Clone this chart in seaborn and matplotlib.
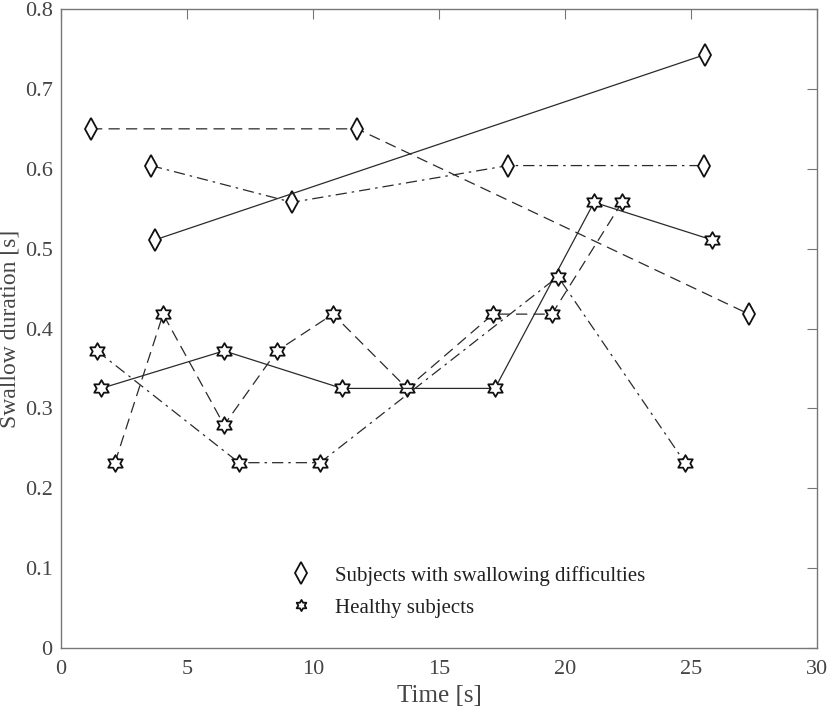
import numpy as np
import pandas as pd
import matplotlib
matplotlib.use("Agg")
import matplotlib.pyplot as plt
from matplotlib.path import Path
from matplotlib.lines import Line2D
import seaborn as sns

# ---- data ----
# Subjects with swallowing difficulties (diamonds)
dif_dashed_t = [1.19, 11.75, 27.3]
dif_dashed_d = [0.650, 0.650, 0.418]
dif_dashdot_t = [3.57, 9.17, 17.74, 25.52]
dif_dashdot_d = [0.604, 0.558, 0.604, 0.604]
dif_solid_t = [3.73, 25.56]
dif_solid_d = [0.511, 0.743]

# Healthy subjects (stars)
hea_dashed_t = [2.14, 4.05, 6.47, 8.57, 10.79, 13.73, 17.14, 19.48, 22.26]
hea_dashed_d = [0.232, 0.418, 0.279, 0.372, 0.418, 0.325, 0.418, 0.418, 0.558]
hea_solid_t = [1.59, 6.47, 11.15, 17.22, 21.15, 25.83]
hea_solid_d = [0.325, 0.372, 0.325, 0.325, 0.558, 0.511]
hea_dashdot_t = [1.43, 7.06, 10.28, 19.72, 24.76]
hea_dashdot_d = [0.372, 0.232, 0.232, 0.465, 0.232]

xticks = [0, 5, 10, 15, 20, 25, 30]
yticks = [0, 0.1, 0.2, 0.3, 0.4, 0.5, 0.6, 0.7, 0.8]
ytick_labels = ["0", "0.1", "0.2", "0.3", "0.4", "0.5", "0.6", "0.7", "0.8"]
legend_labels = ["Subjects with swallowing difficulties", "Healthy subjects"]

# ---- style ----
sns.set_style("white")
plt.rcParams["font.family"] = ["Liberation Serif", "DejaVu Serif"]

TXT = "#454545"
LINE = "#2a2a2a"
SPINE = "#777777"

# hexagram marker
ang_o = np.deg2rad(90 + 60 * np.arange(6))
ang_i = np.deg2rad(120 + 60 * np.arange(6))
r_i = 1 / np.sqrt(3)
verts = []
for ao, ai in zip(ang_o, ang_i):
    verts.append((np.cos(ao), np.sin(ao)))
    verts.append((r_i * np.cos(ai), r_i * np.sin(ai)))
verts.append(verts[0])
codes = [Path.MOVETO] + [Path.LINETO] * 11 + [Path.CLOSEPOLY]
hexagram = Path(verts, codes)

dashed = (0, (9, 5))
dashdot = (0, (9, 4, 2, 4))

fig = plt.figure(figsize=(8.29, 7.06), dpi=100)
ax = fig.add_axes([0.0736, 0.0822, 0.912, 0.905])

series = [
    (dif_dashed_t, dif_dashed_d, dashed, "d", 11),
    (dif_dashdot_t, dif_dashdot_d, dashdot, "d", 11),
    (dif_solid_t, dif_solid_d, "-", "d", 11),
    (hea_dashed_t, hea_dashed_d, dashed, hexagram, 12),
    (hea_solid_t, hea_solid_d, "-", hexagram, 12),
    (hea_dashdot_t, hea_dashdot_d, dashdot, hexagram, 12),
]
for t, d, ls, mk, ms in series:
    df = pd.DataFrame({"t": t, "d": d})
    sns.lineplot(data=df, x="t", y="d", sort=False, estimator=None, ax=ax,
                 color=LINE, linewidth=0.9, linestyle=ls, marker=mk,
                 markersize=ms, markerfacecolor="white",
                 markeredgecolor="#111111", markeredgewidth=1.3)

ax.set_xlim(0, 30)
ax.set_ylim(0, 0.8)
ax.set_xticks(xticks)
ax.set_xticklabels([str(v) for v in xticks])
ax.set_yticks(yticks)
ax.set_yticklabels(ytick_labels)
ax.tick_params(direction="in", length=7, width=0.8, color=SPINE,
               labelsize=16, labelcolor=TXT, top=True, right=True)
ax.tick_params(axis="y", pad=6)
ax.tick_params(axis="x", pad=9)
for s in ax.spines.values():
    s.set_color(SPINE)
    s.set_linewidth(1.0)
ax.set_xlabel("Time [s]", fontsize=18, color=TXT, labelpad=4)
ax.set_ylabel("Swallow duration [s]", fontsize=17, color=TXT)
ax.yaxis.set_label_coords(-0.054, 0.5)

handles = [
    Line2D([], [], linestyle="none", marker="d", markersize=11,
           markerfacecolor="white", markeredgecolor="#111111", markeredgewidth=1.3),
    Line2D([], [], linestyle="none", marker=hexagram, markersize=8,
           markerfacecolor="white", markeredgecolor="#111111", markeredgewidth=1.3),
]
leg = ax.legend(handles, legend_labels, loc="upper left",
                bbox_to_anchor=(0.272, 0.158), frameon=False, fontsize=15,
                handlelength=1.5, handletextpad=0.9, labelspacing=0.6,
                labelcolor="#202020")

fig.savefig("out.png", dpi=100)
